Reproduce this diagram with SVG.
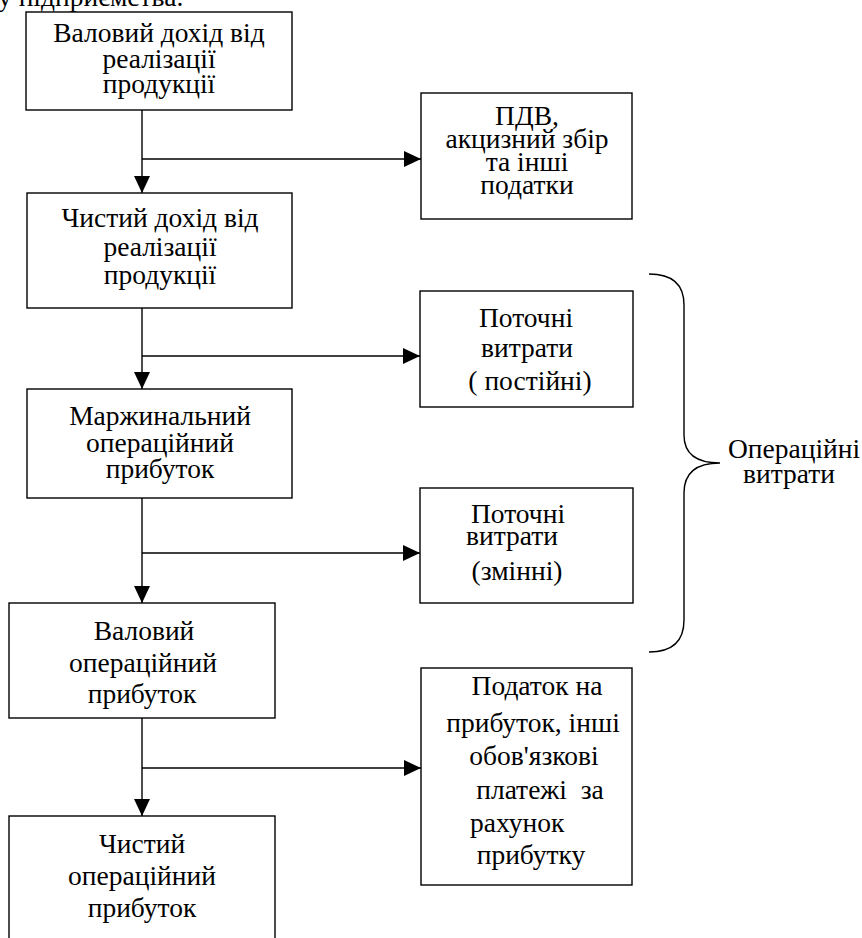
<svg xmlns="http://www.w3.org/2000/svg" width="862" height="938" viewBox="0 0 862 938">
<style>
.box{fill:#fff;stroke:#000;stroke-width:1.4}
.t{font-family:"Liberation Serif","Times New Roman",serif;font-size:27.5px;fill:#000;text-anchor:middle}
.l{text-anchor:start}
.c{fill:none;stroke:#000;stroke-width:1.4}
</style>
<defs>
<marker id="ah" viewBox="0 0 17 16" refX="17" refY="8" markerWidth="17" markerHeight="16" markerUnits="userSpaceOnUse" orient="auto">
<path d="M0,0 L17,8 L0,16 Z" fill="#000"/>
</marker>
</defs>
<rect width="862" height="938" fill="#fff"/>
<text class="t l" x="-2" y="6">у підприємства.</text>

<g id="n1"><rect class="box" x="26" y="12" width="266" height="98"/>
<text class="t" x="159" y="42">Валовий дохід від</text>
<text class="t" x="159" y="68">реалізації</text>
<text class="t" x="159" y="93">продукції</text></g>

<g id="n2"><rect class="box" x="421" y="93" width="211" height="126"/>
<text class="t" x="527" y="125">ПДВ,</text>
<text class="t" x="527" y="148">акцизний збір</text>
<text class="t" x="527" y="171">та інші</text>
<text class="t" x="527" y="194">податки</text></g>

<g id="n3"><rect class="box" x="27" y="193" width="265" height="115"/>
<text class="t" x="160" y="227">Чистий дохід від</text>
<text class="t" x="160" y="256">реалізації</text>
<text class="t" x="160" y="284">продукції</text></g>

<g id="n4"><rect class="box" x="420" y="291" width="213" height="116"/>
<text class="t" x="526" y="327">Поточні</text>
<text class="t" x="527" y="357">витрати</text>
<text class="t" x="530" y="390">( постійні)</text></g>

<g id="n5"><rect class="box" x="27" y="389" width="265" height="109"/>
<text class="t" x="160" y="425">Маржинальний</text>
<text class="t" x="160" y="452">операційний</text>
<text class="t" x="160" y="478">прибуток</text></g>

<g id="n6"><rect class="box" x="420" y="488" width="213" height="115"/>
<text class="t" x="518" y="523">Поточні</text>
<text class="t" x="512" y="545">витрати</text>
<text class="t" x="517" y="580">(змінні)</text></g>

<g id="n7"><rect class="box" x="9" y="603" width="266" height="115"/>
<text class="t" x="144" y="640">Валовий</text>
<text class="t" x="143" y="672">операційний</text>
<text class="t" x="142" y="703">прибуток</text></g>

<g id="n8"><rect class="box" x="421" y="668" width="211" height="217"/>
<text class="t" x="537" y="695">Податок на</text>
<text class="t" x="533" y="732">прибуток, інші</text>
<text class="t" x="534" y="765">обов'язкові</text>
<text class="t" x="540" y="799" xml:space="preserve">платежі  за</text>
<text class="t l" x="470" y="832">рахунок</text>
<text class="t" x="531" y="864">прибутку</text></g>

<g id="n9"><rect class="box" x="9" y="816" width="266" height="140"/>
<text class="t" x="142" y="853">Чистий</text>
<text class="t" x="142" y="885">операційний</text>
<text class="t" x="142" y="917">прибуток</text></g>

<g id="brace">
<path class="c" d="M649,274 Q684,274 684,305 L684,435 Q684,463 720,463 Q684,463 684,493 L684,620 Q684,652 649,652"/>
<text class="t l" x="728" y="458">Операційні</text>
<text class="t l" x="743" y="483">витрати</text>
</g>

<g id="connectors">
<path class="c" d="M142,110 V193" marker-end="url(#ah)"/>
<path class="c" d="M142,159 H421" marker-end="url(#ah)"/>
<path class="c" d="M142,308 V389" marker-end="url(#ah)"/>
<path class="c" d="M142,356 H420" marker-end="url(#ah)"/>
<path class="c" d="M142,498 V603" marker-end="url(#ah)"/>
<path class="c" d="M142,553 H420" marker-end="url(#ah)"/>
<path class="c" d="M142,718 V816" marker-end="url(#ah)"/>
<path class="c" d="M142,768 H421" marker-end="url(#ah)"/>
</g>
</svg>
